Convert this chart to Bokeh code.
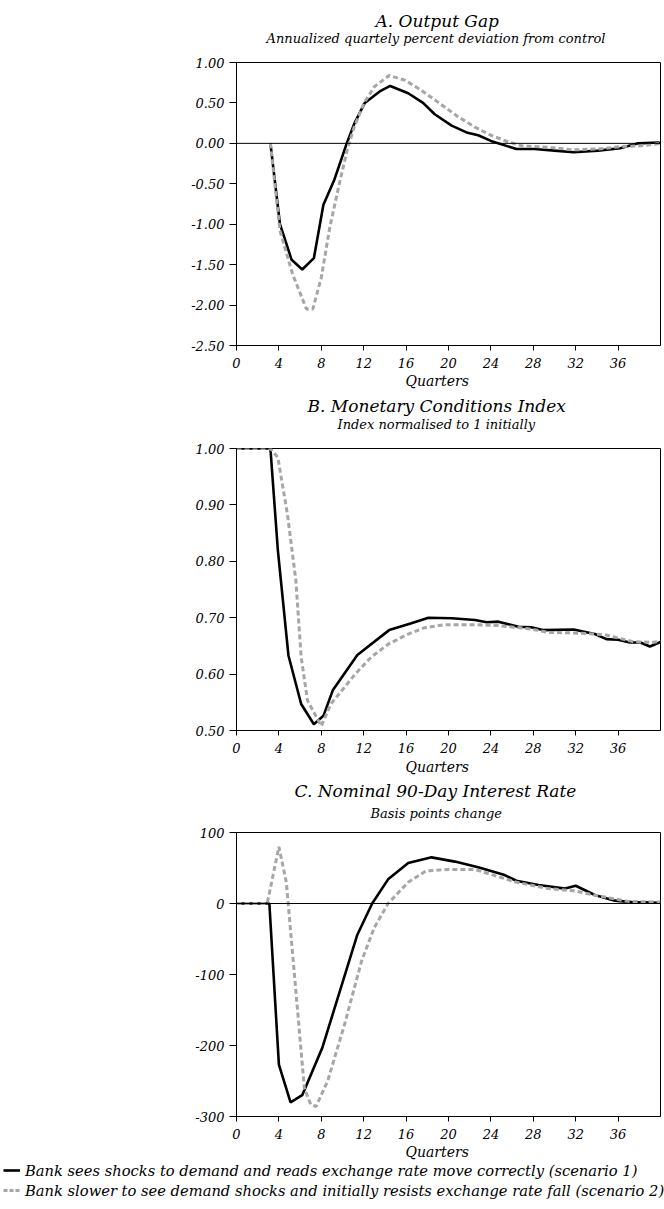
from bokeh.plotting import figure
from bokeh.models import Range1d, FixedTicker, NumeralTickFormatter, Span, Title, Legend, LegendItem
from bokeh.layouts import column
from bokeh.embed import file_html
from bokeh.resources import INLINE

# ---------------- data ----------------
# Panel A: Output gap
qa_black = [3.2, 4.1, 5.2, 6.2, 7.3, 8.2, 9.2, 10.4, 11.1, 12.1, 13.6, 14.5, 16.2, 17.6, 18.7, 20.3, 21.8, 22.8, 24.0, 26.4, 28.1, 30.0, 31.8, 34.1, 36.2, 37.9, 39.8, 40.0]
va_black = [0.00, -1.00, -1.44, -1.56, -1.42, -0.76, -0.46, 0.00, 0.24, 0.50, 0.65, 0.71, 0.62, 0.50, 0.36, 0.22, 0.13, 0.10, 0.03, -0.07, -0.07, -0.09, -0.11, -0.09, -0.06, 0.00, 0.01, 0.00]
qa_gray = [3.2, 4.1, 5.3, 6.6, 7.2, 8.0, 8.8, 9.7, 10.5, 11.1, 12.0, 13.0, 14.4, 15.9, 17.4, 19.0, 20.9, 22.5, 24.0, 25.6, 26.9, 29.4, 31.8, 34.1, 36.3, 38.2, 40.0]
va_gray = [0.00, -1.08, -1.62, -2.05, -2.05, -1.66, -1.04, -0.50, -0.05, 0.20, 0.49, 0.70, 0.84, 0.78, 0.66, 0.51, 0.33, 0.20, 0.10, 0.02, -0.03, -0.05, -0.08, -0.07, -0.04, -0.03, 0.00]

# Panel B: Monetary conditions index
qb_black = [0, 3.2, 3.9, 4.9, 6.1, 7.3, 8.2, 9.1, 11.4, 14.4, 16.5, 18.1, 20.3, 22.5, 23.6, 24.7, 26.6, 27.8, 28.9, 31.8, 33.8, 34.9, 36.0, 37.1, 38.1, 39.0, 40.0]
vb_black = [1.0, 1.0, 0.82, 0.633, 0.547, 0.511, 0.526, 0.572, 0.634, 0.678, 0.69, 0.70, 0.699, 0.696, 0.692, 0.693, 0.684, 0.683, 0.678, 0.679, 0.671, 0.662, 0.661, 0.656, 0.656, 0.649, 0.657]
qb_gray = [0, 3.2, 3.9, 4.8, 5.6, 6.1, 6.7, 8.0, 8.9, 11.2, 12.7, 14.3, 16.2, 17.7, 19.6, 22.5, 24.7, 27.8, 29.4, 31.8, 34.7, 37.3, 39.2, 40.0]
vb_gray = [1.0, 1.0, 0.984, 0.884, 0.766, 0.63, 0.553, 0.508, 0.547, 0.60, 0.63, 0.653, 0.671, 0.682, 0.6875, 0.6875, 0.686, 0.68, 0.674, 0.673, 0.67, 0.658, 0.656, 0.658]

# Panel C: Nominal 90-day interest rate (basis points)
qc_black = [0, 3.1, 4.0, 5.1, 6.2, 8.1, 11.4, 12.8, 14.3, 16.2, 18.4, 20.6, 22.8, 25.3, 26.4, 28.5, 31.0, 32.0, 33.8, 35.7, 37.3, 40.0]
vc_black = [0, 0, -227, -280, -270, -203, -44, 0, 34, 57, 65, 59, 51, 40, 32, 26, 21, 25, 12, 4, 2, 1]
qc_gray = [0, 2.9, 4.0, 4.7, 5.6, 6.4, 7.0, 7.5, 8.6, 10.2, 11.8, 13.0, 14.3, 16.2, 17.9, 20.0, 22.5, 24.0, 26.4, 29.4, 31.8, 34.4, 36.9, 40.0]
vc_gray = [0, 0, 80, 30, -123, -260, -283, -286, -250, -170, -81, -34, 0, 30, 46, 48, 48, 41, 30, 21, 18, 10, 3, 2]

x_ticks = [0, 4, 8, 12, 16, 20, 24, 28, 32, 36]
ticks_a = [-2.5, -2.0, -1.5, -1.0, -0.5, 0.0, 0.5, 1.0]
ticks_b = [0.5, 0.6, 0.7, 0.8, 0.9, 1.0]
ticks_c = [-300, -200, -100, 0, 100]

label_1 = "Bank sees shocks to demand and reads exchange rate move correctly (scenario 1)"
label_2 = "Bank slower to see demand shocks and initially resists exchange rate fall (scenario 2)"

FONT = "DejaVu Serif"
GRAY = "#a6a6a6"


def ttl(text, size, standoff, offset):
    return Title(text=text, align="left", offset=offset, text_font=FONT, text_font_style="italic",
                 text_font_size=size, text_color="black", standoff=standoff)


def make_panel(title, subtitle, qb, vb, qg, vg, yr, yticks, yfmt, top, fh, bottom, zero,
               t_so, t_off, s_so, s_off, q_so):
    p = figure(width=664, height=top + fh + bottom, x_range=Range1d(0, 40), y_range=Range1d(*yr),
               output_backend="svg", toolbar_location=None, title=None,
               min_border_left=236, min_border_right=4, min_border_top=top, min_border_bottom=bottom)
    p.xgrid.visible = False
    p.ygrid.visible = False
    p.outline_line_color = "black"
    p.outline_line_alpha = 1.0
    p.outline_line_width = 1
    for ax in (p.xaxis[0], p.yaxis[0]):
        ax.axis_line_color = "black"
        ax.major_tick_line_color = "black"
        ax.minor_tick_line_color = None
        ax.major_tick_in = 0
        ax.major_label_text_font = FONT
        ax.major_label_text_font_style = "italic"
        ax.major_label_text_font_size = "13px"
        ax.major_label_text_color = "black"
    p.xaxis.ticker = FixedTicker(ticks=x_ticks)
    p.xaxis.major_tick_out = 5
    p.xaxis.major_label_standoff = 7
    p.yaxis.ticker = FixedTicker(ticks=yticks)
    p.yaxis.formatter = NumeralTickFormatter(format=yfmt)
    p.yaxis.major_tick_out = 7
    p.yaxis.major_label_standoff = 5
    if zero:
        p.add_layout(Span(location=0, dimension="width", line_color="black", line_width=1))
    p.line(qb, vb, line_color="black", line_width=2.6)
    p.line(qg, vg, line_color=GRAY, line_width=3, line_dash="5 3")
    p.add_layout(ttl(subtitle, "13px", s_so, s_off), "above")
    p.add_layout(ttl(title, "17px", t_so, t_off), "above")
    p.add_layout(ttl("Quarters", "14px", q_so, 169), "below")
    return p


pa = make_panel("A. Output Gap", "Annualized quartely percent deviation from control",
                qa_black, va_black, qa_gray, va_gray, (-2.5, 1.0), ticks_a, "0.00",
                62, 283, 47, True, -38, 139, 34, 30, 1)
pb = make_panel("B. Monetary Conditions Index", "Index normalised to 1 initially",
                qb_black, vb_black, qb_gray, vb_gray, (0.5, 1.0), ticks_b, "0.00",
                56, 282, 47, False, -35, 71, 33, 101, 2)
pc = make_panel("C. Nominal 90-Day Interest Rate", "Basis points change",
                qc_black, vc_black, qc_gray, vc_gray, (-300, 100), ticks_c, "0",
                55, 284, 44, True, -18, 58, 24, 134, 0)

# legend strip (separate root so that its frame is not aligned with the panels)
nan = float("nan")
pl = figure(width=664, height=49, x_range=Range1d(0, 1), y_range=Range1d(0, 1),
            x_axis_type=None, y_axis_type=None, output_backend="svg", toolbar_location=None,
            title=None, min_border=0, outline_line_color=None)
pl.grid.visible = False
r1 = pl.line([nan, nan], [nan, nan], line_color="black", line_width=2.6)
r2 = pl.line([nan, nan], [nan, nan], line_color=GRAY, line_width=3, line_dash="4 2")
leg = Legend(items=[LegendItem(label=label_1, renderers=[r1]), LegendItem(label=label_2, renderers=[r2])],
             location=(3, 9), margin=0, padding=0, spacing=0, glyph_width=17, glyph_height=20,
             label_height=20, label_standoff=5, border_line_color=None, background_fill_alpha=0,
             label_text_font=FONT, label_text_font_style="italic", label_text_font_size="14.7px",
             label_text_color="black")
pl.add_layout(leg)

layout = column(pa, pb, pc, spacing=0)
open("out.html", "w").write(file_html([layout, pl], INLINE))
